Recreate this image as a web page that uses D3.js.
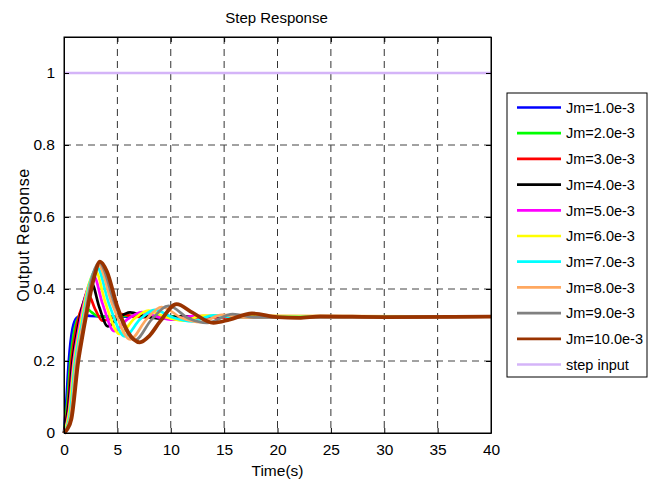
<!DOCTYPE html>
<html>
<head>
<meta charset="utf-8">
<script src="https://cdn.jsdelivr.net/npm/d3@7"></script>
<style>
  body { margin: 0; background: #fff; }
  text { font-family: "Liberation Sans", Arial, sans-serif; fill: #000; }
</style>
</head>
<body>
<div id="chart"></div>
<script>
// values, [time, response]
const jm1 = [[0,0],[0.2,0.08],[0.45,0.2],[0.8,0.29],[1.2,0.32],[1.7,0.327],[2.5,0.325],[4,0.323],[40,0.323]];
const jm2 = [[0,0],[0.3,0.08],[0.6,0.2],[1.0,0.29],[1.5,0.33],[2.0,0.348],[2.6,0.335],[3.2,0.324],[4.5,0.322],[6,0.326],[8,0.323],[40,0.323]];
const jm3 = [[0,0],[0.35,0.07],[0.7,0.2],[1.2,0.3],[1.8,0.36],[2.3,0.383],[2.9,0.345],[3.6,0.312],[4.4,0.318],[5.3,0.33],[6.5,0.324],[8,0.321],[40,0.323]];
const jm4 = [[0,0],[0.4,0.07],[0.8,0.2],[1.35,0.3],[2.0,0.38],[2.6,0.415],[3.3,0.35],[4.1,0.296],[5.0,0.318],[6.2,0.335],[7.5,0.325],[9,0.318],[11,0.324],[40,0.323]];
const jm5 = [[0,0],[0.45,0.06],[0.9,0.2],[1.45,0.3],[2.2,0.4],[2.8,0.435],[3.6,0.36],[4.7,0.283],[5.9,0.315],[7.3,0.336],[8.8,0.322],[10.3,0.315],[12,0.325],[40,0.323]];
const jm6 = [[0,0],[0.5,0.06],[0.97,0.2],[1.55,0.3],[2.3,0.41],[2.95,0.45],[3.9,0.36],[5.2,0.275],[6.6,0.318],[7.9,0.34],[9.5,0.322],[11.2,0.312],[13,0.326],[40,0.323]];
const jm7 = [[0,0],[0.55,0.05],[1.05,0.2],[1.65,0.3],[2.45,0.42],[3.1,0.46],[4.2,0.36],[5.7,0.268],[7.1,0.315],[8.5,0.342],[10.2,0.321],[12,0.31],[14,0.327],[16,0.322],[40,0.323]];
const jm8 = [[0,0],[0.6,0.045],[1.15,0.2],[1.75,0.3],[2.6,0.43],[3.2,0.468],[4.5,0.36],[6.2,0.26],[7.7,0.315],[9.15,0.35],[11,0.32],[12.8,0.308],[14.8,0.328],[17,0.321],[40,0.323]];
const jm9 = [[0,0],[0.65,0.04],[1.25,0.2],[1.85,0.3],[2.7,0.44],[3.3,0.473],[4.8,0.355],[6.65,0.258],[8.2,0.315],[9.8,0.353],[11.7,0.318],[13.4,0.306],[15.8,0.33],[18,0.321],[40,0.323]];
const jm10 = [[0,0],[0.3,0.01],[0.7,0.04],[1.34,0.2],[1.66,0.258],[2.1,0.33],[2.8,0.43],[3.37,0.476],[4,0.45],[5,0.35],[6,0.28],[7.1,0.252],[8,0.27],[9,0.31],[10.55,0.358],[12,0.335],[14,0.306],[15.5,0.315],[17.6,0.332],[20,0.322],[22,0.32],[24,0.324],[30,0.322],[40,0.323]];
const stepInput = [[0,1],[40,1]];

const labels = ['Jm=1.0e-3','Jm=2.0e-3','Jm=3.0e-3','Jm=4.0e-3','Jm=5.0e-3','Jm=6.0e-3','Jm=7.0e-3','Jm=8.0e-3','Jm=9.0e-3','Jm=10.0e-3','step input'];
const colors = ['#0000ff','#00ff00','#ff0000','#000000','#ff00ff','#ffff00','#00ffff','#ffa860','#808080','#993300','#d4b4f8'];
const xTicks = [0,5,10,15,20,25,30,35,40];
const yTicks = [0,0.2,0.4,0.6,0.8,1];

const allSeries = [jm1,jm2,jm3,jm4,jm5,jm6,jm7,jm8,jm9,jm10,stepInput];

const margin = {top: 37, right: 159, bottom: 49, left: 64};
const width = 650 - margin.left - margin.right;
const height = 482 - margin.top - margin.bottom;

const svg = d3.select('#chart').append('svg')
  .attr('width', 650)
  .attr('height', 482);

const g = svg.append('g')
  .attr('transform', `translate(${margin.left},${margin.top})`);

const x = d3.scaleLinear().domain([0, 40]).range([0, width]);
const y = d3.scaleLinear().domain([0, 1.1]).range([height, 0]);

// dashed grid
g.append('g')
  .selectAll('line')
  .data(xTicks.slice(1, -1))
  .join('line')
    .attr('x1', d => x(d)).attr('x2', d => x(d))
    .attr('y1', 0).attr('y2', height)
    .attr('stroke', '#333').attr('stroke-dasharray', '7,5');

g.append('g')
  .selectAll('line')
  .data(yTicks.slice(1))
  .join('line')
    .attr('x1', 0).attr('x2', width)
    .attr('y1', d => y(d)).attr('y2', d => y(d))
    .attr('stroke', '#444').attr('stroke-dasharray', '7,5');

const line = d3.line()
  .x(d => x(d[0]))
  .y(d => y(d[1]))
  .curve(d3.curveMonotoneX);

g.append('g')
  .attr('fill', 'none')
  .attr('stroke-linejoin', 'round')
  .selectAll('path')
  .data(allSeries)
  .join('path')
    .attr('d', line)
    .attr('stroke', (d, i) => colors[i])
    .attr('stroke-width', (d, i) => i === 9 ? 3.8 : 2.7);

// axes with inward ticks, MATLAB box
const xAxis = d3.axisBottom(x).tickValues(xTicks).tickSizeInner(-5).tickSizeOuter(0).tickPadding(11);
const yAxis = d3.axisLeft(y).tickValues(yTicks).tickSizeInner(-5).tickSizeOuter(0).tickPadding(9).tickFormat(d3.format('~g'));

const gx = g.append('g').attr('transform', `translate(0,${height})`).call(xAxis);
const gy = g.append('g').call(yAxis);
g.append('g').call(d3.axisTop(x).tickValues(xTicks).tickSizeInner(-5).tickSizeOuter(0).tickFormat(''));
g.append('g').attr('transform', `translate(${width},0)`)
  .call(d3.axisRight(y).tickValues(yTicks).tickSizeInner(-5).tickSizeOuter(0).tickFormat(''));

svg.selectAll('.domain').attr('stroke', '#000');
svg.selectAll('.tick line').attr('stroke', '#000');
[gx, gy].forEach(a => a.selectAll('text').attr('font-size', 15.5).attr('font-family', '"Liberation Sans", Arial, sans-serif'));

g.append('rect')
  .attr('width', width).attr('height', height)
  .attr('fill', 'none').attr('stroke', '#000').attr('stroke-width', 1);

// titles
svg.append('text')
  .attr('x', margin.left + width / 2 - 1).attr('y', 23)
  .attr('text-anchor', 'middle').attr('font-size', 15)
  .text('Step Response');

svg.append('text')
  .attr('x', margin.left + width / 2).attr('y', 476)
  .attr('text-anchor', 'middle').attr('font-size', 15.5)
  .text('Time(s)');

svg.append('text')
  .attr('transform', `translate(29,${margin.top + height / 2}) rotate(-90)`)
  .attr('text-anchor', 'middle').attr('font-size', 16)
  .attr('letter-spacing', 0.6)
  .text('Output Response');

// legend
const legend = svg.append('g').attr('transform', 'translate(507,93)');
legend.append('rect')
  .attr('width', 140).attr('height', 284)
  .attr('fill', '#fff').attr('stroke', '#000');

const item = legend.selectAll('g.item')
  .data(labels)
  .join('g')
    .attr('class', 'item')
    .attr('transform', (d, i) => `translate(0,${14.5 + i * 25.7})`);

item.append('line')
  .attr('x1', 10).attr('x2', 54)
  .attr('stroke', (d, i) => colors[i])
  .attr('stroke-width', 2.7);

item.append('text')
  .attr('x', 59).attr('dy', '0.36em')
  .attr('font-size', 14.5)
  .text(d => d);
</script>
</body>
</html>
